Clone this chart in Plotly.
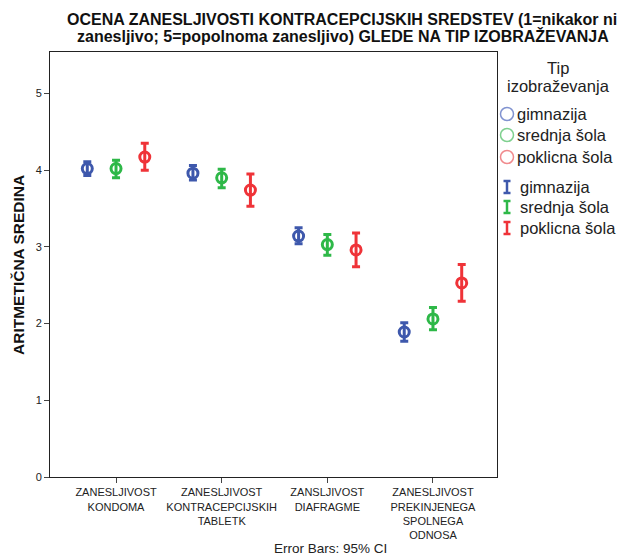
import plotly.graph_objects as go

categories = ["ZANESLJIVOST<br>KONDOMA", "ZANESLJIVOST<br>KONTRACEPCIJSKIH<br>TABLETK",
              "ZANSLJIVOST<br>DIAFRAGME", "ZANESLJIVOST<br>PREKINJENEGA<br>SPOLNEGA<br>ODNOSA"]
groups = ["gimnazija", "srednja šola", "poklicna šola"]
colors = ["#3E58AC", "#2EB848", "#EF3338"]
legend_colors = ["#8193D0", "#7FD08F", "#F08A8D"]

means = {
    "gimnazija":     [4.02, 3.96, 3.14, 1.89],
    "srednja šola":  [4.02, 3.90, 3.03, 2.06],
    "poklicna šola": [4.17, 3.74, 2.96, 2.53],
}
ci_upper = {
    "gimnazija":     [4.11, 4.06, 3.25, 2.01],
    "srednja šola":  [4.13, 4.01, 3.16, 2.21],
    "poklicna šola": [4.35, 3.95, 3.18, 2.77],
}
ci_lower = {
    "gimnazija":     [3.93, 3.87, 3.04, 1.77],
    "srednja šola":  [3.90, 3.77, 2.89, 1.92],
    "poklicna šola": [4.00, 3.53, 2.74, 2.29],
}
offsets = [-0.272, 0.0, 0.272]
y_ticks = [0, 1, 2, 3, 4, 5]

fig = go.Figure()
for g, col, off in zip(groups, colors, offsets):
    xs = [i + off for i in range(len(categories))]
    m = means[g]
    up = [u - v for u, v in zip(ci_upper[g], m)]
    lo = [v - l for l, v in zip(ci_lower[g], m)]
    fig.add_trace(go.Scatter(
        x=xs, y=m, mode="markers", showlegend=False,
        marker=dict(symbol="circle-open", size=10, color=col, line=dict(width=3, color=col)),
        error_y=dict(type="data", symmetric=False, array=up, arrayminus=lo,
                     color=col, thickness=3, width=4),
    ))

fig.update_layout(
    width=628, height=555,
    margin=dict(l=50, r=131, t=52, b=78),
    plot_bgcolor="white", paper_bgcolor="white",
    font=dict(family="Liberation Sans, Arial, sans-serif", color="#222"),
    showlegend=False,
)
fig.update_xaxes(
    range=[-0.625, 3.606], tickvals=list(range(len(categories))), ticktext=categories,
    showgrid=False, zeroline=False, showline=True, linecolor="#222", linewidth=1, mirror=True,
    ticks="outside", ticklen=5, tickcolor="#444", tickfont=dict(size=11, color="#222"),
)
fig.update_yaxes(
    range=[0, 5.54], tickvals=y_ticks, ticktext=[str(v) for v in y_ticks],
    showgrid=False, zeroline=False, showline=True, linecolor="#222", linewidth=1, mirror=True,
    ticks="outside", ticklen=5, tickcolor="#444", tickfont=dict(size=11, color="#222"),
)


def px_x(px):
    return (px - 50) / 447


def px_y(py):
    return (477 - py) / 425


ann = []
# title lines
ann.append(dict(text="<b>OCENA ZANESLJIVOSTI KONTRACEPCIJSKIH SREDSTEV (1=nikakor ni</b>",
                xref="paper", yref="paper", x=px_x(342), y=px_y(19),
                showarrow=False, xanchor="center", yanchor="middle", font=dict(size=16, color="#111")))
ann.append(dict(text="<b>zanesljivo; 5=popolnoma zanesljivo) GLEDE NA TIP IZOBRAŽEVANJA</b>",
                xref="paper", yref="paper", x=px_x(343), y=px_y(36),
                showarrow=False, xanchor="center", yanchor="middle", font=dict(size=16, color="#111")))
# y-axis title
ann.append(dict(text="<b>ARITMETIČNA SREDINA</b>", textangle=-90,
                xref="paper", yref="paper", x=px_x(18), y=px_y(265),
                showarrow=False, xanchor="center", yanchor="middle", font=dict(size=15.5, color="#111")))
# footnote
ann.append(dict(text="Error Bars: 95% CI", xref="paper", yref="paper",
                x=px_x(330), y=px_y(548), showarrow=False,
                xanchor="center", yanchor="middle", font=dict(size=13.5, color="#222")))

# legend title
ann.append(dict(text="Tip", xref="paper", yref="paper", x=px_x(558), y=px_y(68),
                showarrow=False, xanchor="center", yanchor="middle", font=dict(size=16.5, color="#222")))
ann.append(dict(text="izobraževanja", xref="paper", yref="paper", x=px_x(558), y=px_y(86),
                showarrow=False, xanchor="center", yanchor="middle", font=dict(size=16.5, color="#222")))

shapes = []
circle_y = [114, 135, 157]
bar_y = [187, 207, 228]
for g, col, lcol, cy, by in zip(groups, colors, legend_colors, circle_y, bar_y):
    shapes.append(dict(type="circle", xref="paper", yref="paper", xsizemode="pixel", ysizemode="pixel",
                       xanchor=px_x(507), yanchor=px_y(cy), x0=-6.5, x1=6.5, y0=-6.5, y1=6.5,
                       line=dict(color=lcol, width=1.5)))
    ann.append(dict(text=g, xref="paper", yref="paper", x=px_x(515), y=px_y(cy),
                    showarrow=False, xanchor="left", yanchor="middle", font=dict(size=16.5, color="#222")))
    shapes.append(dict(type="line", xref="paper", yref="paper", xsizemode="pixel", ysizemode="pixel",
                       xanchor=px_x(507), yanchor=px_y(by), x0=0, x1=0, y0=-6, y1=6,
                       line=dict(color=col, width=2.5)))
    for dy in (-6, 6):
        shapes.append(dict(type="line", xref="paper", yref="paper", xsizemode="pixel", ysizemode="pixel",
                           xanchor=px_x(507), yanchor=px_y(by), x0=-3.5, x1=3.5, y0=dy, y1=dy,
                           line=dict(color=col, width=2.5)))
    ann.append(dict(text=g, xref="paper", yref="paper", x=px_x(518), y=px_y(by),
                    showarrow=False, xanchor="left", yanchor="middle", font=dict(size=16.5, color="#222")))

fig.update_layout(annotations=ann, shapes=shapes)
fig.write_html("out.html", config={"displayModeBar": False},
               post_script="document.body.style.margin='0';")
